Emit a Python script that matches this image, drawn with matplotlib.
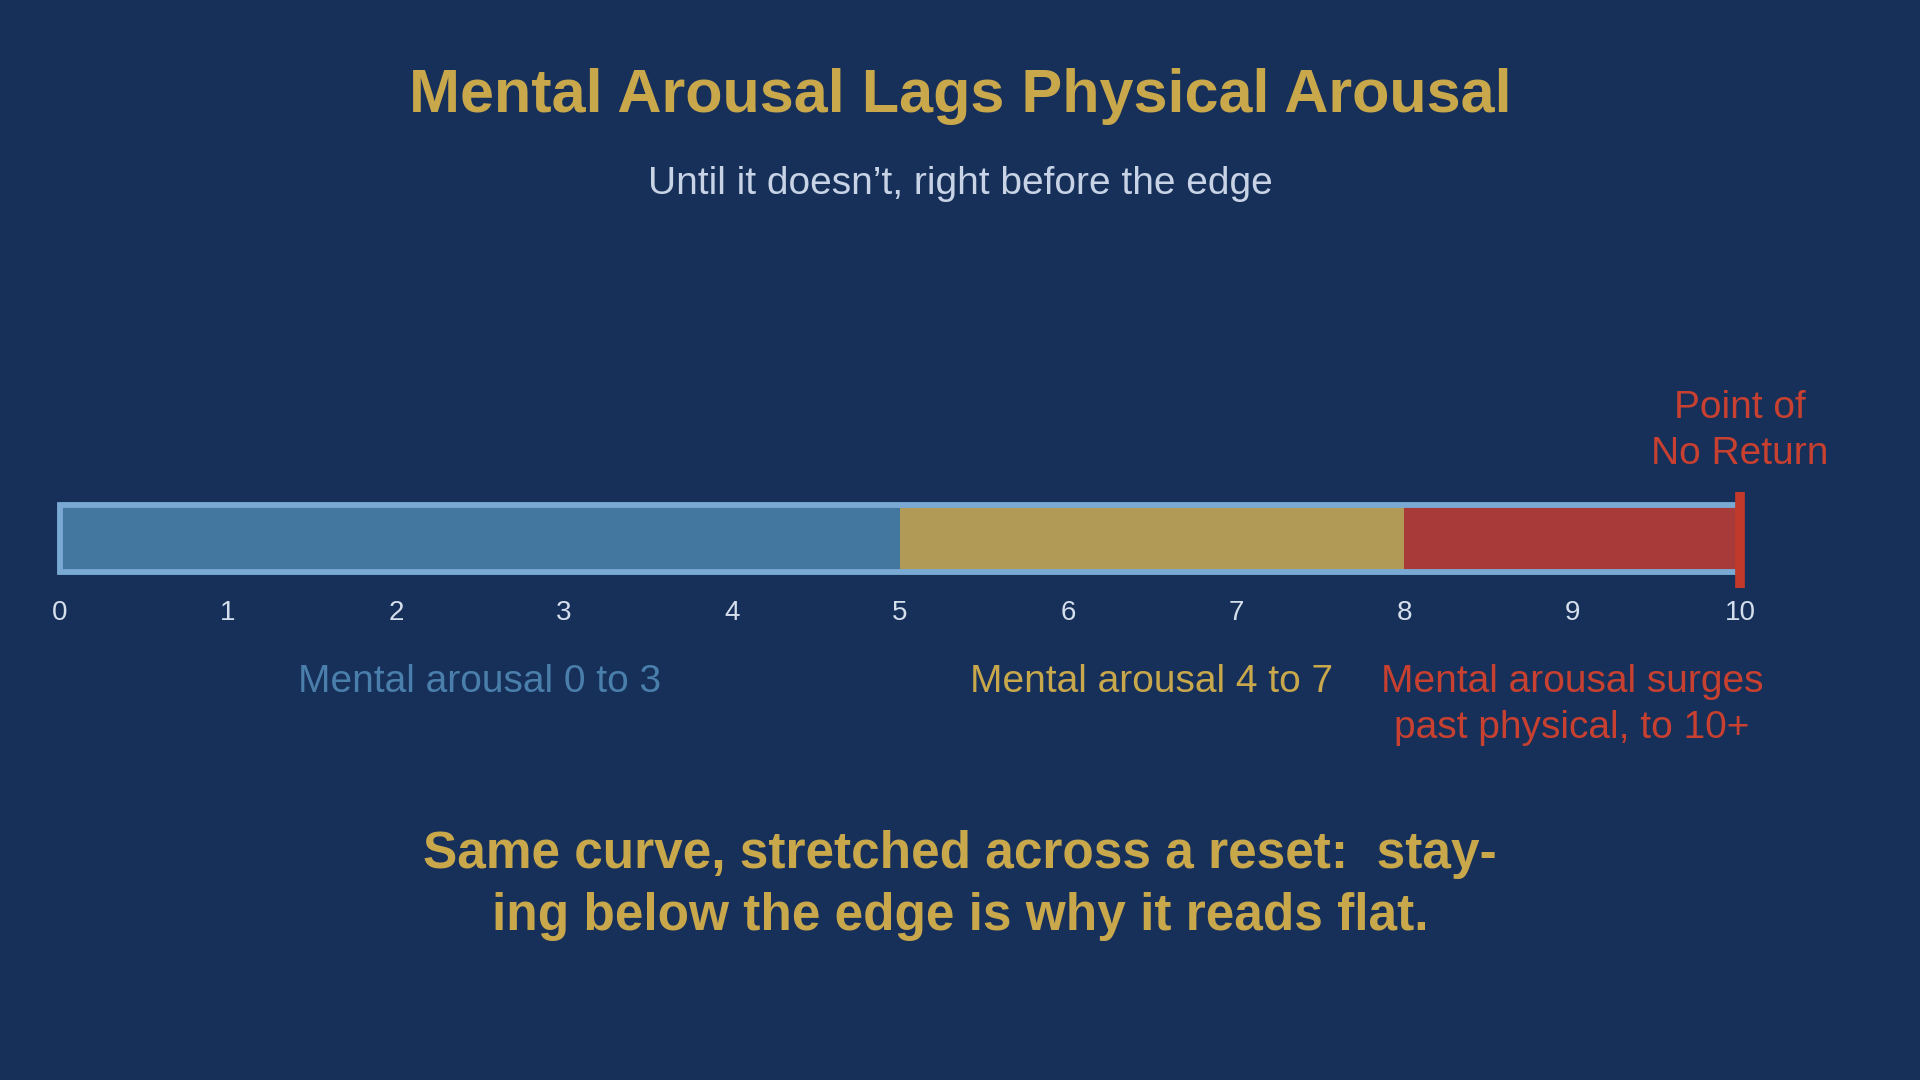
"""Mental vs physical arousal scale — single stacked bar with zone labels."""

import matplotlib
matplotlib.use("Agg")
import matplotlib.pyplot as plt
from matplotlib.patches import Rectangle

plt.rcParams["font.family"] = ["Liberation Sans", "DejaVu Sans"]

BG = "#17305a"
GOLD = "#c9a84c"

# data
zone_edges = [0, 5, 8, 10]
zone_colors = ["#44779f", "#b09a55", "#a83a3a"]
zone_labels = ["Mental arousal 0 to 3", "Mental arousal 4 to 7",
               "Mental arousal surges\npast physical, to 10+"]
zone_label_colors = ["#4a7fab", "#c9a84c", "#c8402f"]
label_x = [2.5, 6.5, 9.0]
ticks = list(range(0, 11))
edge_x = 10
edge_label = "Point of\nNo Return"

fig = plt.figure(figsize=(19.2, 10.8), dpi=100, facecolor=BG)

ax = fig.add_axes([60 / 1920, 1 - 572 / 1080, 1680 / 1920, 67 / 1080])
ax.set_facecolor(BG)
ax.set_xlim(0, 10)
ax.set_ylim(0, 1)
for s in ax.spines.values():
    s.set_visible(False)

for x0, x1, c in zip(zone_edges[:-1], zone_edges[1:], zone_colors):
    ax.barh(0.5, x1 - x0, left=x0, height=1, color=c, linewidth=0, zorder=2)

ax.add_patch(Rectangle((0, 0), zone_edges[-1], 1, fill=False, edgecolor="#7aaad4",
                       linewidth=4.2, zorder=3, clip_on=False, joinstyle="miter"))
ax.plot([edge_x, edge_x], [-0.24, 1.2], color="#c0392b", linewidth=7,
        solid_capstyle="butt", zorder=4, clip_on=False)

ax.set_yticks([])
ax.set_xticks(ticks)
ax.tick_params(axis="x", length=0, pad=20, labelsize=20, labelcolor="#d5dfec")

ax.text(edge_x, 2.11, edge_label, ha="center", va="center", fontsize=28,
        color="#c8402f", linespacing=1.35)

for x, lab, c in zip(label_x, zone_labels, zone_label_colors):
    ax.text(x, -1.37, lab, ha="center", va="top", fontsize=28, color=c,
            linespacing=1.35)

fig.text(0.5, 0.911, "Mental Arousal Lags Physical Arousal", ha="center", va="center",
         fontsize=44, fontweight="bold", color=GOLD)
fig.text(0.5, 0.830, "Until it doesn\u2019t, right before the edge", ha="center",
         va="center", fontsize=28, color="#c8d4e6")
fig.text(0.5, 0.180,
         "Same curve, stretched across a reset:  stay-\ning below the edge is why it reads flat.",
         ha="center", va="center", fontsize=37, fontweight="bold", color=GOLD,
         linespacing=1.35)

fig.savefig("out.png", dpi=100, facecolor=BG)
